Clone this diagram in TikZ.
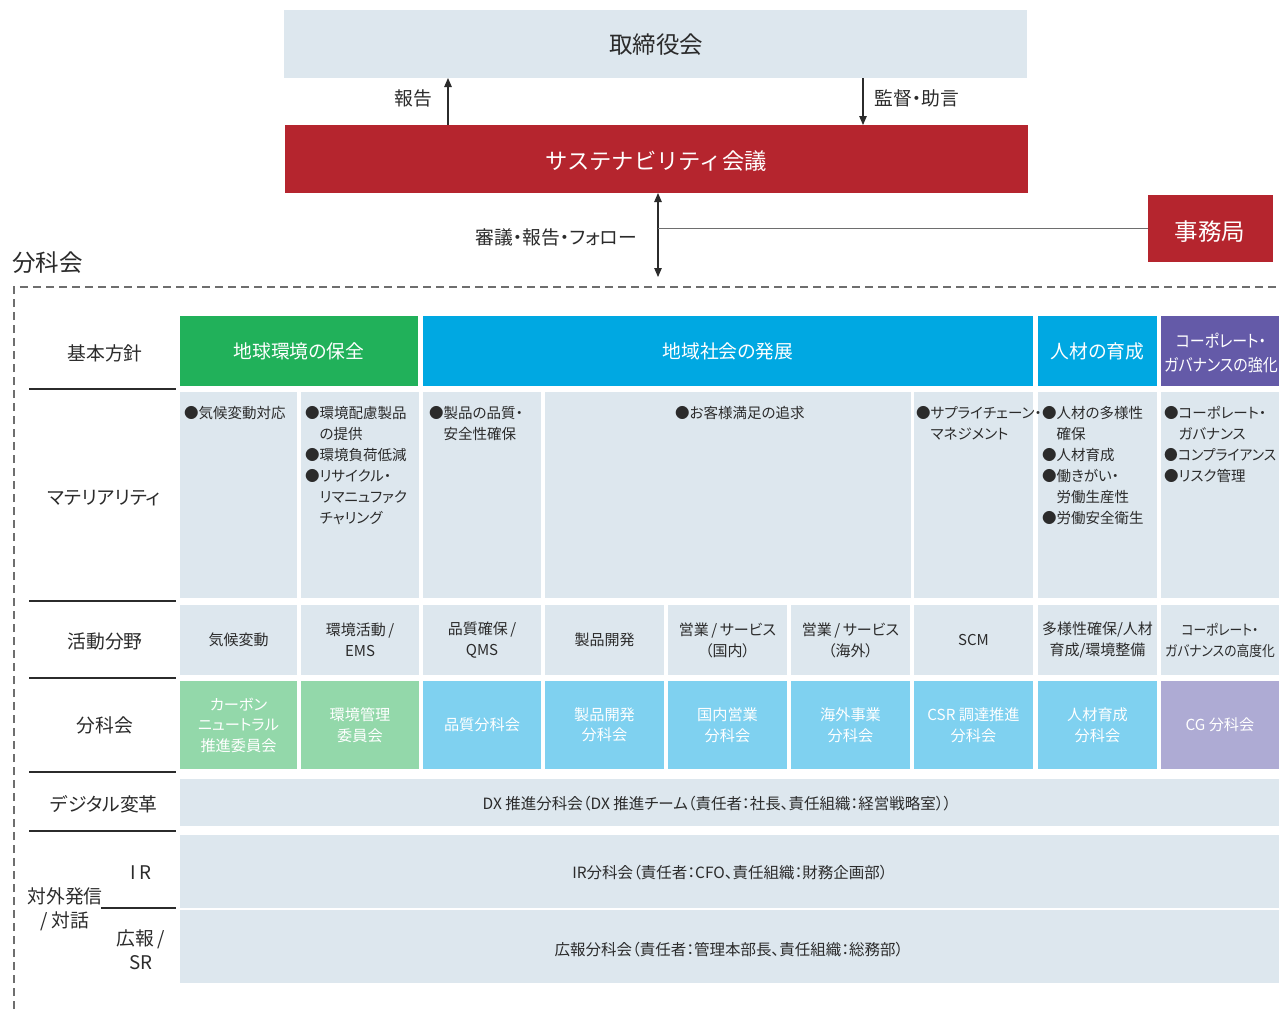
\documentclass[tikz,border=0pt]{standalone}
\usepackage{fontspec}
\setmainfont{Noto Sans CJK JP}[RawFeature=+palt]
\newfontfamily\fwfont{Noto Sans CJK JP}
\newfontfamily\narrowfont{Noto Sans CJK JP}[RawFeature=+palt, FakeStretch=0.88]
\newfontfamily\slimfont{Noto Sans CJK JP}[RawFeature=+palt, FakeStretch=0.95]
\usetikzlibrary{arrows.meta}
\definecolor{pale}{HTML}{DDE7EE}
\definecolor{sred}{HTML}{B5252E}
\definecolor{sgreen}{HTML}{21B15A}
\definecolor{sblue}{HTML}{00A8E2}
\definecolor{spurple}{HTML}{645AA8}
\definecolor{lgreen}{HTML}{93D8AA}
\definecolor{lblue}{HTML}{7FD1F0}
\definecolor{lpurple}{HTML}{AEABD4}
\definecolor{ink}{HTML}{2B2B2B}
\definecolor{dashgray}{HTML}{6E6E6E}
\tikzset{
  cell/.style={draw=none, inner sep=0pt, outer sep=0pt, anchor=north west, align=center, text=ink},
  fbig/.style={font=\fwfont\fontsize{23.5}{28}\selectfont},
  fmid/.style={font=\fontsize{18.8}{24}\selectfont},
  flab/.style={font=\fontsize{18.8}{22}\selectfont},
  fsm/.style={font=\fontsize{15}{21}\selectfont},
  fsub/.style={font=\fontsize{15.2}{20.5}\selectfont},
  frow/.style={font=\fontsize{15.5}{21}\selectfont},
  mtxt/.style={anchor=north west, inner sep=0pt, align=left, text=ink, font=\fontsize{14.5}{21}\selectfont},
  txt/.style={inner sep=0pt, text=ink, align=center},
  arr/.style={draw=ink, line width=1.1pt, -{Triangle[length=9pt,width=7.5pt]}},
  arrtwo/.style={draw=ink, line width=1.1pt, {Triangle[length=9pt,width=7.5pt]}-{Triangle[length=9pt,width=7.5pt]}},
  sep/.style={draw=ink, line width=1.3pt},
}
\begin{document}
\begin{tikzpicture}[x=1pt,y=-1pt]
\useasboundingbox (0,0) rectangle (1279,1009);
\fill[white] (0,0) rectangle (1279,1009);

% top governance
\node[cell, fill=pale, minimum width=743, minimum height=68] (board) at (284,10) {};
\node[txt, fbig] (boardt) at (656,45) {取締役会};
\node[cell, fill=sred, minimum width=743, minimum height=68] (sust) at (285,125) {};
\node[txt, text=white, font=\fwfont\fontsize{22.3}{28}\selectfont] (sustt) at (656,161) {サステナビリティ会議};
\node[cell, fill=sred, minimum width=125, minimum height=67] (sec) at (1148,195) {};
\node[txt, text=white, fbig] (sect) at (1210,232) {事務局};

\draw[arr] ([xshift=163pt]sust.north west) -- ([xshift=164pt]board.south west);
\node[txt, flab, anchor=east] (lrep) at (432,98) {報告};
\draw[arr] ([xshift=579pt]board.south west) -- ([xshift=578pt]sust.north west);
\node[txt, flab, anchor=west] (lsup) at (874,98) {監督・助言};

\coordinate (subtop) at (658,277);
\draw[arrtwo] ([xshift=373pt]sust.south west) -- (subtop);
\draw[draw=dashgray, line width=1.3pt] (sec.west) -- (sec.west -| subtop);
\node[txt, flab, anchor=east] (ldel) at (637,237) {審議・報告・フォロー};

\node[txt, fbig, anchor=west] (subttl) at (12,263) {分科会};
\draw[draw=dashgray, line width=1.3pt, dash pattern=on 8pt off 5pt] (14,1009) -- (14,287) -- (1279,287);

% left labels and separators
\node[txt, fmid] (lkihon) at (105,353) {基本方針};
\node[txt, fmid] (lmat) at (104,498) {マテリアリティ};
\node[txt, fmid] (lact) at (105,641) {活動分野};
\node[txt, fmid] (lsub) at (105,725) {分科会};
\node[txt, fmid] (ldx) at (104,804) {デジタル変革};
\node[txt, fmid] (lext) at (65,909) {対外発信\\/\,対話};
\node[txt, fmid] (lir) at (141,873) {I\,R};
\node[txt, fmid] (lpr) at (141,950) {広報\,/\\SR};
\draw[sep] (29,389) -- (176,389);
\draw[sep] (29,601) -- (176,601);
\draw[sep] (29,678) -- (176,678);
\draw[sep] (29,772) -- (176,772);
\draw[sep] (29,831) -- (176,831);
\draw[sep] (101,908) -- (176,908);

% header row
\node[cell, fill=sgreen, text=white, minimum width=238, minimum height=70, fmid] (h1) at (180,316) {地球環境の保全};
\node[cell, fill=sblue, text=white, minimum width=610, minimum height=70, fmid] (h2) at (423,316) {地域社会の発展};
\node[cell, fill=sblue, text=white, minimum width=119, minimum height=70, fmid] (h3) at (1038,316) {人材の育成};
\node[cell, fill=spurple, minimum width=118, minimum height=70] (h4) at (1161,316) {};
\node[txt, text=white, font=\narrowfont\fontsize{17}{24}\selectfont] (h4t) at (1221,353) {コーポレート・\\ガバナンスの強化};

% materiality row
\node[cell, fill=pale, minimum width=117, minimum height=206] (m1) at (180,392) {};
\node[cell, fill=pale, minimum width=118, minimum height=206] (m2) at (301,392) {};
\node[cell, fill=pale, minimum width=118, minimum height=206] (m3) at (423,392) {};
\node[cell, fill=pale, minimum width=366, minimum height=206] (m4) at (545,392) {};
\node[cell, fill=pale, minimum width=119, minimum height=206] (m5) at (914,392) {};
\node[cell, fill=pale, minimum width=119, minimum height=206] (m6) at (1038,392) {};
\node[cell, fill=pale, minimum width=118, minimum height=206] (m7) at (1161,392) {};
\node[mtxt] (mt1) at (184,406) {●気候変動対応};
\node[mtxt] (mt2) at (305,406) {●環境配慮製品\\\phantom{●}の提供\\●環境負荷低減\\●リサイクル・\\\phantom{●}リマニュファク\\\phantom{●}チャリング};
\node[mtxt] (mt3) at (429,406) {●製品の品質・\\\phantom{●}安全性確保};
\node[mtxt] (mt4) at (675,406) {●お客様満足の追求};
\node[mtxt] (mt5) at (916,406) {●サプライチェーン・\\\phantom{●}マネジメント};
\node[mtxt] (mt6) at (1042,406) {●人材の多様性\\\phantom{●}確保\\●人材育成\\●働きがい・\\\phantom{●}労働生産性\\●労働安全衛生};
\node[mtxt] (mt7) at (1164,406) {●コーポレート・\\\phantom{●}ガバナンス\\{\slimfont ●コンプライアンス}\\●リスク管理};

% activity row
\node[cell, fill=pale, minimum width=117, minimum height=70, fsm] (a1) at (180,605) {気候変動};
\node[cell, fill=pale, minimum width=118, minimum height=70, fsm] (a2) at (301,605) {環境活動\,/\\EMS};
\node[cell, fill=pale, minimum width=118, minimum height=70, fsm] (a3) at (423,605) {品質確保\,/\\QMS};
\node[cell, fill=pale, minimum width=119, minimum height=70, fsm] (a4) at (545,605) {製品開発};
\node[cell, fill=pale, minimum width=119, minimum height=70, fsm] (a5) at (668,605) {営業\,/\,サービス\\（国内）};
\node[cell, fill=pale, minimum width=119, minimum height=70, fsm] (a6) at (791,605) {営業\,/\,サービス\\（海外）};
\node[cell, fill=pale, minimum width=119, minimum height=70, fsm] (a7) at (914,605) {SCM};
\node[cell, fill=pale, minimum width=119, minimum height=70, fsm] (a8) at (1038,605) {多様性確保/人材\\育成/環境整備};
\node[cell, fill=pale, minimum width=118, minimum height=70, font=\narrowfont\fontsize{14.5}{21}\selectfont] (a9) at (1161,605) {コーポレート・\\ガバナンスの高度化};

% subcommittee row
\node[cell, fill=lgreen, text=white, minimum width=117, minimum height=88, fsub] (s1) at (180,681) {カーボン\\ニュートラル\\推進委員会};
\node[cell, fill=lgreen, text=white, minimum width=118, minimum height=88, fsub] (s2) at (301,681) {環境管理\\委員会};
\node[cell, fill=lblue, text=white, minimum width=118, minimum height=88, fsub] (s3) at (423,681) {品質分科会};
\node[cell, fill=lblue, text=white, minimum width=119, minimum height=88, fsub] (s4) at (545,681) {製品開発\\分科会};
\node[cell, fill=lblue, text=white, minimum width=119, minimum height=88, fsub] (s5) at (668,681) {国内営業\\分科会};
\node[cell, fill=lblue, text=white, minimum width=119, minimum height=88, fsub] (s6) at (791,681) {海外事業\\分科会};
\node[cell, fill=lblue, text=white, minimum width=119, minimum height=88, fsub] (s7) at (914,681) {CSR 調達推進\\分科会};
\node[cell, fill=lblue, text=white, minimum width=119, minimum height=88, fsub] (s8) at (1038,681) {人材育成\\分科会};
\node[cell, fill=lpurple, text=white, minimum width=118, minimum height=88, fsub] (s9) at (1161,681) {CG 分科会};

% wide rows
\node[cell, fill=pale, minimum width=1099, minimum height=47] (rdx) at (180,779) {};
\node[cell, fill=pale, minimum width=1099, minimum height=73] (rir) at (180,835) {};
\node[cell, fill=pale, minimum width=1099, minimum height=73] (rpr) at (180,910) {};
\node[txt, frow] (tdx) at (717,804) {DX 推進分科会（DX 推進チーム（責任者：社長、責任組織：経営戦略室））};
\node[txt, frow] (tir) at (730,873) {IR分科会（責任者：CFO、責任組織：財務企画部）};
\node[txt, frow] (tpr) at (729,950) {広報分科会（責任者：管理本部長、責任組織：総務部）};
\end{tikzpicture}
\end{document}
